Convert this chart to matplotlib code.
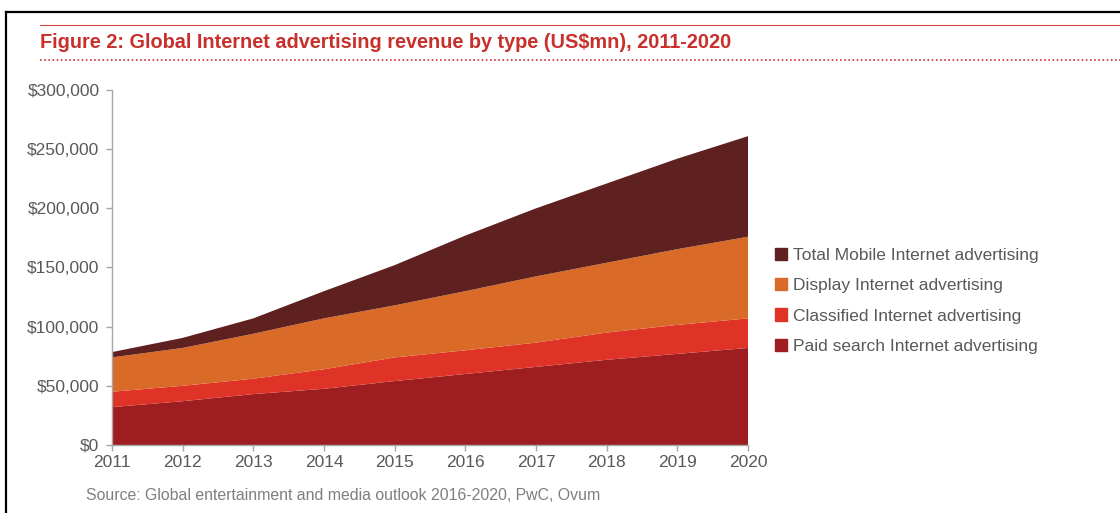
import numpy as np
import matplotlib.pyplot as plt
from matplotlib.lines import Line2D
from matplotlib.ticker import FuncFormatter

plt.rcParams['font.family'] = ['Liberation Sans', 'DejaVu Sans']

years = [2011, 2012, 2013, 2014, 2015, 2016, 2017, 2018, 2019, 2020]

# US$mn
paid_search = np.array([32000, 37000, 43000, 47500, 54000, 60000, 66000, 72000, 77000, 82000])
classified = np.array([13000, 13000, 13000, 16500, 20000, 20000, 20500, 23000, 24500, 25000])
display = np.array([29000, 32000, 38000, 43000, 44000, 50000, 56000, 59000, 64000, 69000])
mobile = np.array([4500, 8500, 13000, 23000, 34000, 47000, 57500, 67000, 76500, 85000])

labels = ['Paid search Internet advertising', 'Classified Internet advertising',
          'Display Internet advertising', 'Total Mobile Internet advertising']
colors = ['#9E1D20', '#DE3326', '#DA6A27', '#5E2120']

fig = plt.figure(figsize=(11.2, 5.13), dpi=100)
ax = fig.add_axes([0.1, 0.1326, 0.568, 0.692])

polys = ax.stackplot(years, paid_search, classified, display, mobile,
                     colors=colors, labels=labels, linewidth=0)

ax.set_xlim(2011, 2020)
ax.set_ylim(0, 300000)
ax.set_xticks(years)
ax.set_yticks(np.arange(0, 300001, 50000))
ax.yaxis.set_major_formatter(FuncFormatter(lambda v, p: '${:,.0f}'.format(v)))

for s in ['top', 'right']:
    ax.spines[s].set_visible(False)
for s in ['left', 'bottom']:
    ax.spines[s].set_color('#A6A6A6')
    ax.spines[s].set_linewidth(1)
ax.tick_params(axis='both', colors='#A6A6A6', labelcolor='#595959', length=4, width=1)
ax.tick_params(axis='x', labelsize=12.5, pad=3)
ax.tick_params(axis='y', labelsize=12.5, pad=5)

# legend (reverse order, top is mobile)
handles = [plt.Rectangle((0, 0), 1, 1, color=c) for c in colors][::-1]
leg = ax.legend(handles, labels[::-1], loc='upper left', bbox_to_anchor=(1.018, 0.6),
                frameon=False, fontsize=12.5, labelcolor='#595959',
                handlelength=0.7, handleheight=0.7, handletextpad=0.3, labelspacing=0.88)

# title and decorations
fig.text(40 / 1120, 1 - 42 / 513, 'Figure 2: Global Internet advertising revenue by type (US$mn), 2011-2020',
         color='#C8302B', fontsize=14.3, fontweight='bold', va='center', ha='left')
fig.add_artist(Line2D([40 / 1120, 1], [1 - 25 / 513, 1 - 25 / 513], color='#D0433A', lw=0.8,
                      transform=fig.transFigure))
fig.add_artist(Line2D([40 / 1120, 1], [1 - 60 / 513, 1 - 60 / 513], color='#C8302B', lw=1.2,
                      linestyle=(0, (1, 1.5)), transform=fig.transFigure))
fig.add_artist(Line2D([6 / 1120, 1], [1 - 11.5 / 513, 1 - 11.5 / 513], color='black', lw=1.6,
                      transform=fig.transFigure))
fig.add_artist(Line2D([6 / 1120, 6 / 1120], [0, 1 - 11.5 / 513], color='black', lw=1.6,
                      transform=fig.transFigure))

fig.text(86 / 1120, 1 - 496 / 513, 'Source: Global entertainment and media outlook 2016-2020, PwC, Ovum',
         color='#7F7F7F', fontsize=11.4, va='center', ha='left')

plt.savefig('out.png', dpi=100)
